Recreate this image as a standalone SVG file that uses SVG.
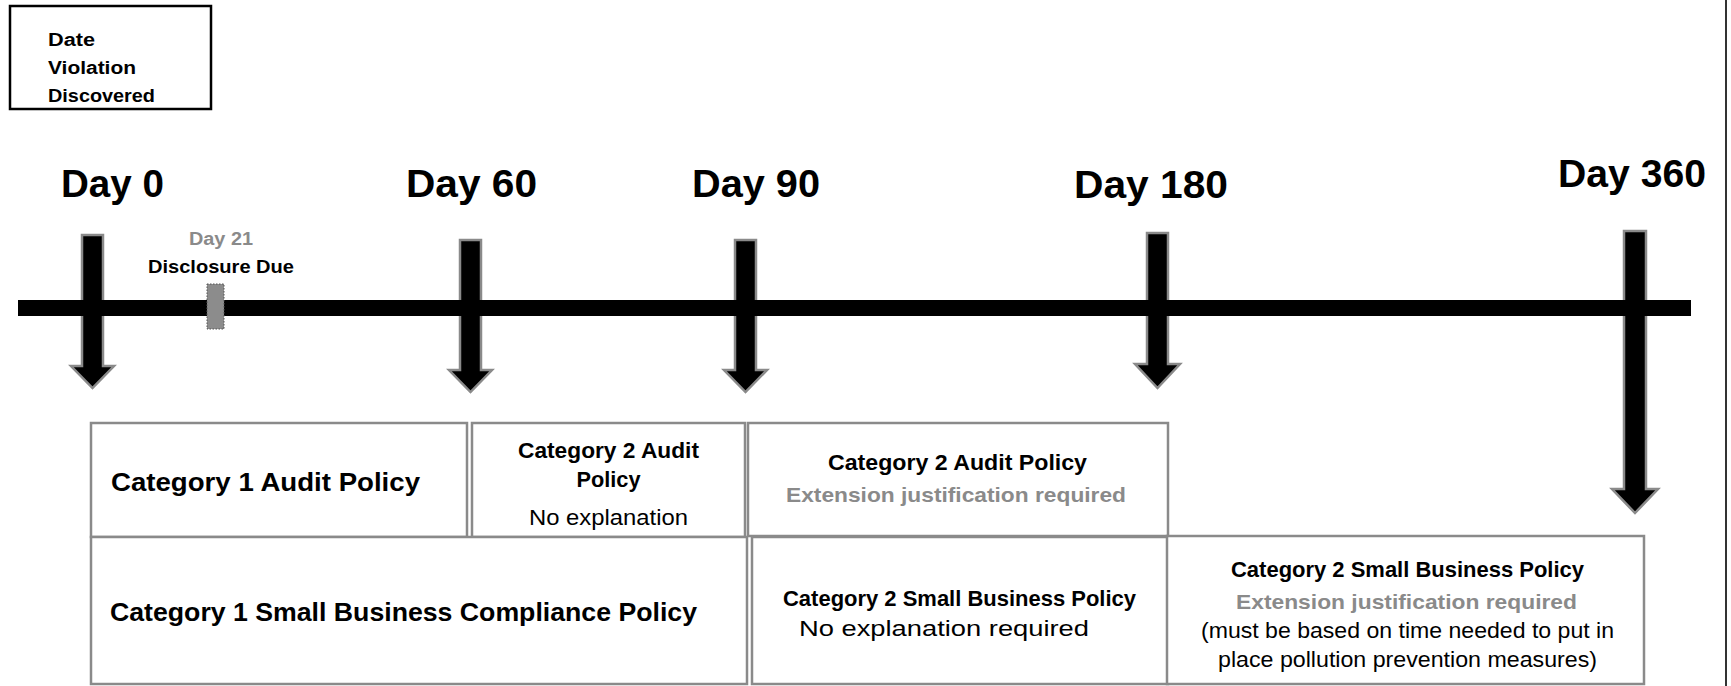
<svg xmlns="http://www.w3.org/2000/svg" width="1731" height="686" viewBox="0 0 1731 686">
<style>
.b{font-family:"Liberation Sans",Arial,sans-serif;font-weight:bold;fill:#000}
.r{font-family:"Liberation Sans",Arial,sans-serif;font-weight:normal;fill:#000}
.g{fill:#8a8a8a}
.box{fill:#fff;stroke:#8a8a8a;stroke-width:2.5}
.arr{fill:#000;stroke:#8a8a8a;stroke-width:2.5;stroke-linejoin:miter}
.day{font-size:38px}
</style>
<rect width="1731" height="686" fill="#fff"/>
<line x1="1726" y1="0" x2="1726" y2="686" stroke="#333" stroke-width="2"/>

<g id="legend">
<rect x="10" y="6" width="201" height="103" fill="#fff" stroke="#000" stroke-width="2.5"/>
<text class="b" x="48" y="46" font-size="18" textLength="47" lengthAdjust="spacingAndGlyphs">Date</text>
<text class="b" x="48" y="74" font-size="18" textLength="88" lengthAdjust="spacingAndGlyphs">Violation</text>
<text class="b" x="48" y="102" font-size="18" textLength="107" lengthAdjust="spacingAndGlyphs">Discovered</text>
</g>

<g id="connectors">
<polygon class="arr" points="82,235 103,235 103,366 114,366 92.5,388 71,366 82,366"/>
<polygon class="arr" points="460,240 481,240 481,370 492,370 470.5,392 449,370 460,370"/>
<polygon class="arr" points="735,240 756,240 756,370 767,370 745.5,392 724,370 735,370"/>
<polygon class="arr" points="1147,233 1168,233 1168,364 1180,364 1157.5,388 1135,364 1147,364"/>
<polygon class="arr" points="1624,231 1646,231 1646,489 1658,489 1635,513 1612,489 1624,489"/>
</g>

<g id="timeline">
<rect x="18" y="300" width="1673" height="16" fill="#000"/>
</g>

<g id="day21">
<rect x="207" y="284" width="17" height="45" fill="#8c8c8c" stroke="#555" stroke-width="1" stroke-dasharray="1.5 1.5"/>
<text class="b g" x="221" y="245" font-size="18" text-anchor="middle" textLength="64" lengthAdjust="spacingAndGlyphs">Day 21</text>
<text class="b" x="221" y="273" font-size="19" text-anchor="middle" textLength="146" lengthAdjust="spacingAndGlyphs">Disclosure Due</text>
</g>

<g id="day-labels">
<text class="b day" x="61" y="197" textLength="103" lengthAdjust="spacingAndGlyphs">Day 0</text>
<text class="b day" x="406" y="197" textLength="131" lengthAdjust="spacingAndGlyphs">Day 60</text>
<text class="b day" x="692" y="197" textLength="128" lengthAdjust="spacingAndGlyphs">Day 90</text>
<text class="b day" x="1074" y="198" textLength="154" lengthAdjust="spacingAndGlyphs">Day 180</text>
<text class="b day" x="1558" y="187" textLength="148" lengthAdjust="spacingAndGlyphs">Day 360</text>
</g>

<g id="cat1-audit">
<rect class="box" x="91" y="423" width="376" height="114"/>
<text class="b" x="111" y="491" font-size="26.5" textLength="309" lengthAdjust="spacingAndGlyphs">Category 1 Audit  Policy</text>
</g>

<g id="cat2-audit">
<rect class="box" x="472" y="423" width="273" height="114"/>
<text class="b" x="608.5" y="458" font-size="21.5" text-anchor="middle" textLength="181" lengthAdjust="spacingAndGlyphs">Category 2 Audit</text>
<text class="b" x="608.5" y="487" font-size="21.5" text-anchor="middle" textLength="64" lengthAdjust="spacingAndGlyphs">Policy</text>
<text class="r" x="608.5" y="525" font-size="21.5" text-anchor="middle" textLength="159" lengthAdjust="spacingAndGlyphs">No explanation</text>
</g>

<g id="cat2-audit-ext">
<rect class="box" x="748" y="423" width="420" height="113"/>
<text class="b" x="957.5" y="470" font-size="21.5" text-anchor="middle" textLength="259" lengthAdjust="spacingAndGlyphs">Category 2 Audit  Policy</text>
<text class="b g" x="956" y="502" font-size="21" text-anchor="middle" textLength="340" lengthAdjust="spacingAndGlyphs">Extension justification required</text>
</g>

<g id="cat1-sb">
<rect class="box" x="91" y="537" width="656" height="147"/>
<text class="b" x="110" y="621" font-size="26.5" textLength="587" lengthAdjust="spacingAndGlyphs">Category 1 Small Business Compliance Policy</text>
</g>

<g id="cat2-sb">
<rect class="box" x="752" y="537" width="416" height="147"/>
<text class="b" x="959.5" y="606" font-size="21.5" text-anchor="middle" textLength="353" lengthAdjust="spacingAndGlyphs">Category 2 Small Business Policy</text>
<text class="r" x="944" y="636" font-size="21.5" text-anchor="middle" textLength="290" lengthAdjust="spacingAndGlyphs">No explanation required</text>
</g>

<g id="cat2-sb-ext">
<rect class="box" x="1167" y="536" width="477" height="148"/>
<text class="b" x="1407.5" y="577" font-size="21.5" text-anchor="middle" textLength="353" lengthAdjust="spacingAndGlyphs">Category 2 Small Business Policy</text>
<text class="b g" x="1406.5" y="609" font-size="21" text-anchor="middle" textLength="341" lengthAdjust="spacingAndGlyphs">Extension justification required</text>
<text class="r" x="1407.5" y="638" font-size="21.5" text-anchor="middle" textLength="413" lengthAdjust="spacingAndGlyphs">(must be based on time needed to put in</text>
<text class="r" x="1407.5" y="667" font-size="21.5" text-anchor="middle" textLength="379" lengthAdjust="spacingAndGlyphs">place  pollution  prevention  measures)</text>
</g>
</svg>
